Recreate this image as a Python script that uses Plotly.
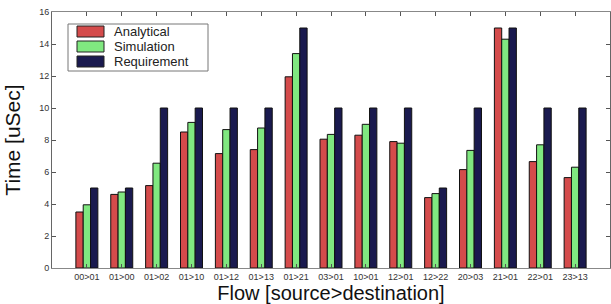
import plotly.graph_objects as go

flows = ["00>01", "01>00", "01>02", "01>10", "01>12", "01>13", "01>21", "03>01",
         "10>01", "12>01", "12>22", "20>03", "21>01", "22>01", "23>13"]
analytical = [3.5, 4.6, 5.15, 8.5, 7.15, 7.4, 11.95, 8.05, 8.3, 7.9, 4.4, 6.15, 15.0, 6.65, 5.65]
simulation = [3.95, 4.75, 6.55, 9.1, 8.65, 8.75, 13.4, 8.35, 8.98, 7.8, 4.65, 7.35, 14.3, 7.7, 6.3]
requirement = [5, 5, 10, 10, 10, 10, 15, 10, 10, 10, 5, 10, 15, 10, 10]
yticks = [0, 2, 4, 6, 8, 10, 12, 14, 16]
series_names = ["Analytical", "Simulation", "Requirement"]
series_colors = ["#d44b4b", "#80e880", "#1a1a4f"]

L, R, T, B = 52, 1, 12, 36
W, H = 611, 304
pw, ph = W - L - R, H - T - B

def px_x(p):
    return (p - L) / pw

def px_y(p):
    return (H - B - p) / ph

fig = go.Figure()
for name, vals, col in zip(series_names, [analytical, simulation, requirement], series_colors):
    fig.add_trace(go.Bar(x=flows, y=vals, name=name, showlegend=False,
                         marker=dict(color=col, line=dict(color="#111111", width=1))))

# legend box drawn manually (wide swatches like the original)
shapes = [dict(type="rect", xref="paper", yref="paper",
               x0=px_x(68), x1=px_x(208), y0=px_y(71), y1=px_y(24),
               line=dict(color="#777", width=1), fillcolor="white", layer="above")]
annotations = []
for i, (name, col) in enumerate(zip(series_names, series_colors)):
    cy = 31.5 + i * 15
    shapes.append(dict(type="rect", xref="paper", yref="paper",
                       x0=px_x(77), x1=px_x(104), y0=px_y(cy + 5.5), y1=px_y(cy - 5.5),
                       line=dict(color="#222", width=1), fillcolor=col, layer="above"))
    annotations.append(dict(xref="paper", yref="paper", x=px_x(112), y=px_y(cy),
                            xanchor="left", yanchor="middle", text=name, showarrow=False,
                            font=dict(size=13, color="#222")))

fig.update_layout(
    width=W, height=H,
    margin=dict(l=L, r=R, t=T, b=B),
    paper_bgcolor="white", plot_bgcolor="white",
    barmode="group", bargap=0.37, bargroupgap=0,
    font=dict(family="Liberation Sans, Arial, sans-serif", color="#222"),
    shapes=shapes, annotations=annotations,
)
fig.update_xaxes(range=[-1, 15], showline=True, linecolor="#888", linewidth=1,
                 mirror="ticks", ticks="inside", ticklen=4, tickcolor="#555",
                 tickfont=dict(size=9, color="#333"), automargin=False,
                 title=dict(text="Flow [source>destination]", font=dict(size=20, color="#111"), standoff=1),
                 showgrid=False)
fig.update_yaxes(range=[0, 16], tickvals=yticks, showline=True, linecolor="#666", linewidth=1,
                 mirror="ticks", ticks="inside", ticklen=4, tickcolor="#555",
                 tickfont=dict(size=9, color="#333"), automargin=False,
                 title=dict(text="Time [uSec]", font=dict(size=21, color="#111"), standoff=12),
                 showgrid=False, zeroline=False)

fig.write_html("out.html", config={"displayModeBar": False},
               post_script="document.body.style.margin='0';document.body.style.overflow='hidden';")
